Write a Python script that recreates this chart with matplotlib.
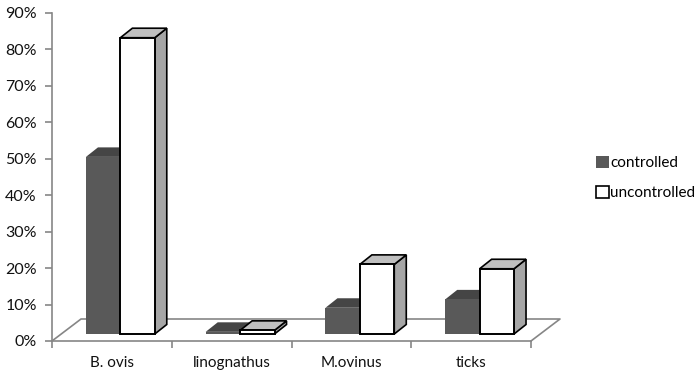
import numpy as np
import matplotlib
matplotlib.use('Agg')
import matplotlib.pyplot as plt
from matplotlib.patches import Polygon, Patch

plt.rcParams['font.family'] = ['Lato', 'DejaVu Sans']

categories = ['B. ovis', 'linognathus', 'M.ovinus', 'ticks']
controlled = [48.6, 0.6, 7.2, 9.5]
uncontrolled = [81.3, 1.0, 19.1, 17.9]
y_ticks = [0, 10, 20, 30, 40, 50, 60, 70, 80, 90]

AXIS_COL = '#868686'
DARK = '#595959'
DARK_TOP = '#454545'
LIGHT_TOP = '#bfbfbf'
LIGHT_SIDE = '#a6a6a6'

W, H = 700, 378
fig = plt.figure(figsize=(W / 100, H / 100), dpi=100)
ax = fig.add_axes([52 / W, 1 - 341 / H, 479 / W, 328 / H])
ax.set_xlim(0, 4)
ax.set_ylim(0, 90)

# px -> data
sx = 4 / 479
sy = 90 / 328

# floor of the 3d box
fx, fy = 29 * sx, 22 * sy
ax.plot([0, fx, 4 + fx, 4], [0, fy, fy, 0], color=AXIS_COL, lw=1.2, clip_on=False, zorder=1)

base = 7 * sy
bar_w = 34.4 * sx
dx, dy = 12 * sx, 9.5 * sy
centres = np.arange(4) + 0.5 + 8.5 * sx


def depth(x, top, width, top_col, side_col, edge=None, lw=0, z=3):
    side = [(x + width, base), (x + width + dx, base + dy), (x + width + dx, top + dy), (x + width, top)]
    roof = [(x, top), (x + dx, top + dy), (x + width + dx, top + dy), (x + width, top)]
    ec = edge if edge else 'none'
    ax.add_patch(Polygon(side, closed=True, fc=side_col, ec=ec, lw=lw, zorder=z, clip_on=False))
    ax.add_patch(Polygon(roof, closed=True, fc=top_col, ec=ec, lw=lw, zorder=z, clip_on=False))


for i in range(4):
    c_top = base + controlled[i]
    u_top = base + uncontrolled[i]
    depth(centres[i] - bar_w, c_top, bar_w, DARK_TOP, DARK_TOP, z=3)
    ax.bar(centres[i] - bar_w, controlled[i], bar_w, bottom=base, align='edge', color=DARK, zorder=4, clip_on=False)
    depth(centres[i], u_top, bar_w, LIGHT_TOP, LIGHT_SIDE, edge='black', lw=1.2, z=5)
    ax.bar(centres[i], uncontrolled[i], bar_w, bottom=base, align='edge', color='white', edgecolor='black',
           linewidth=1.4, zorder=6, clip_on=False)

for s in ['top', 'right']:
    ax.spines[s].set_visible(False)
for s in ['left', 'bottom']:
    ax.spines[s].set_color(AXIS_COL)
    ax.spines[s].set_linewidth(1.2)

ax.set_yticks(y_ticks)
ax.set_yticklabels(['%d%%' % v for v in y_ticks], fontsize=11.5, color='#111111')
ax.tick_params(axis='y', length=5, width=1.2, color=AXIS_COL, pad=6)

ax.set_xticks(range(5))
ax.set_xticklabels([])
ax.tick_params(axis='x', length=5, width=1.2, color=AXIS_COL)
ax.set_xticks(np.arange(4) + 0.5, minor=True)
ax.set_xticklabels(categories, minor=True, fontsize=11, color='#111111')
ax.tick_params(axis='x', which='minor', length=0, pad=11)

handles = [Patch(fc=DARK, ec='none', label='controlled'),
           Patch(fc='white', ec='black', lw=1.2, label='uncontrolled')]
fig.legend(handles=handles, loc='center left', bbox_to_anchor=(591 / W, 1 - 178 / H), frameon=False,
           fontsize=11, handlelength=0.85, handleheight=0.85, handletextpad=0.1, labelspacing=1.05,
           borderaxespad=0, borderpad=0.3)

fig.savefig('out.png', dpi=100)
